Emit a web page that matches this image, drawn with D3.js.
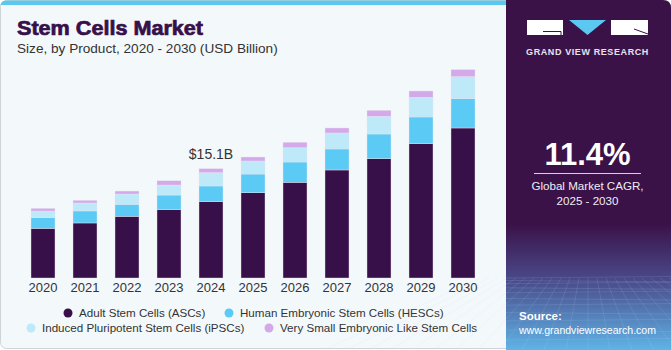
<!DOCTYPE html>
<html>
<head>
<meta charset="utf-8">
<script src="https://cdn.jsdelivr.net/npm/d3@7"></script>
<style>
  body { margin: 0; background: #ffffff; }
  svg { display: block; font-family: "Liberation Sans", Arial, sans-serif; }
</style>
</head>
<body>
<div id="viz"></div>
<script>
// data (USD billion)
var years = ['2020','2021','2022','2023','2024','2025','2026','2027','2028','2029','2030'];
var adult = [6.86, 7.60, 8.52, 9.43, 10.54, 11.78, 13.22, 14.92, 16.48, 18.55, 20.72];
var hesc = [1.46, 1.66, 1.66, 2.03, 2.17, 2.58, 2.80, 2.90, 3.41, 3.69, 4.05];
var ipsc = [0.93, 1.10, 1.42, 1.38, 1.84, 1.80, 1.98, 2.21, 2.44, 2.72, 3.04];
var vsel = [0.37, 0.37, 0.41, 0.59, 0.55, 0.55, 0.75, 0.69, 0.83, 0.87, 0.97];
var seriesNames = ['Adult Stem Cells (ASCs)', 'Human Embryonic Stem Cells (HESCs)',
  'Induced Pluripotent Stem Cells (iPSCs)', 'Very Small Embryonic Like Stem Cells'];
var colors = ['#37104a', '#5bcbf5', '#bde9f9', '#d3a9ea'];
var keys = ['adult', 'hesc', 'ipsc', 'vsel'];
var callout = {year: '2024', label: '$15.1B'};

var W = 671, H = 350;
var svg = d3.select('#viz').append('svg')
  .attr('width', W).attr('height', H);

// main panel
svg.append('rect')
  .attr('x', 0.5).attr('y', 0.5).attr('width', 512).attr('height', 348)
  .attr('rx', 6)
  .attr('fill', '#f3f8fb').attr('stroke', '#cfd4d8');
svg.append('path')
  .attr('d', 'M0.5,6.5 Q0.5,0.5 6.5,0.5 H512 V5 H0.5 Z')
  .attr('fill', '#5bc8ee');

svg.append('text')
  .attr('x', 17).attr('y', 35)
  .attr('font-size', 20).attr('font-weight', 900)
  .attr('fill', '#37104a').attr('stroke', '#37104a').attr('stroke-width', 0.7)
  .attr('textLength', 186).attr('lengthAdjust', 'spacingAndGlyphs')
  .text('Stem Cells Market');
svg.append('text')
  .attr('x', 17).attr('y', 53)
  .attr('font-size', 13.6).attr('fill', '#333')
  .text('Size, by Product, 2020 - 2030 (USD Billion)');

var table = years.map(function(y, i) {
  return {year: y, adult: adult[i], hesc: hesc[i], ipsc: ipsc[i], vsel: vsel[i]};
});
var stacked = d3.stack().keys(keys)(table);

var x = d3.scaleBand()
  .domain(years)
  .range([22, 484])
  .paddingInner(18 / 42)
  .paddingOuter(9 / 42);

var y = d3.scaleLinear()
  .domain([0, 25])
  .range([278, 97]);

svg.append('g')
  .selectAll('g')
  .data(stacked)
  .enter()
  .append('g')
  .attr('fill', (d, i) => colors[i])
  .selectAll('rect')
  .data(d => d)
  .enter()
  .append('rect')
  .attr('x', d => x(d.data.year))
  .attr('y', d => y(d[1]))
  .attr('width', x.bandwidth())
  .attr('height', d => y(d[0]) - y(d[1]))
  .attr('stroke', '#e9e4f0')
  .attr('stroke-width', 0.4);

var xAxis = d3.axisBottom(x).tickSize(0).tickPadding(4.5);
svg.append('g')
  .attr('transform', 'translate(0,278)')
  .call(xAxis)
  .call(g => g.select('.domain').remove())
  .selectAll('text')
  .attr('font-size', 13)
  .attr('font-family', '"Liberation Sans", Arial, sans-serif')
  .attr('fill', '#333');

// callout above 2024
var ci = years.indexOf(callout.year);
var ctot = adult[ci] + hesc[ci] + ipsc[ci] + vsel[ci];
svg.append('text')
  .attr('x', x(callout.year) + x.bandwidth() / 2)
  .attr('y', y(ctot) - 10)
  .attr('text-anchor', 'middle')
  .attr('font-size', 14).attr('fill', '#333')
  .text(callout.label);

// legend
var legendPos = [[68, 313], [229, 313], [31, 328], [269, 328]];
var legend = svg.append('g');
seriesNames.forEach(function(name, i) {
  legend.append('circle')
    .attr('cx', legendPos[i][0]).attr('cy', legendPos[i][1])
    .attr('r', 4.5).attr('fill', colors[i]);
  legend.append('text')
    .attr('x', legendPos[i][0] + 11).attr('y', legendPos[i][1] + 4.3)
    .attr('font-size', 11.6).attr('fill', '#333')
    .text(name);
});

// right side panel
var defs = svg.append('defs');
var grad = defs.append('linearGradient')
  .attr('id', 'fade').attr('x1', 0).attr('y1', 0).attr('x2', 0).attr('y2', 1);
grad.append('stop').attr('offset', '0%').attr('stop-color', '#3a1248');
grad.append('stop').attr('offset', '64%').attr('stop-color', '#3a1248');
grad.append('stop').attr('offset', '80%').attr('stop-color', '#4a4a8a');
grad.append('stop').attr('offset', '100%').attr('stop-color', '#5fb4e6');

var side = svg.append('g');
side.append('path')
  .attr('d', 'M506,0 H663 Q671,0 671,8 V350 H506 Z')
  .attr('fill', 'url(#fade)');

// faint grid at the bottom
var grid = side.append('g')
  .attr('stroke', '#bfe3f7').attr('stroke-opacity', 0.22).attr('stroke-width', 0.6)
  .attr('fill', 'none');
d3.range(0, 14).forEach(function(k) {
  var yy = 278 + k * k * 0.42 + k * 2;
  if (yy < 350) grid.append('line').attr('x1', 506).attr('x2', 671).attr('y1', yy).attr('y2', yy + (k % 2 ? 1.5 : -1.5));
});
d3.range(-12, 13).forEach(function(k) {
  grid.append('line')
    .attr('x1', 588 + k * 9).attr('y1', 278)
    .attr('x2', 588 + k * 22).attr('y2', 350);
});

// logo
var logo = side.append('g');
logo.append('rect').attr('x', 527).attr('y', 20).attr('width', 36).attr('height', 15).attr('fill', '#fff');
logo.append('path').attr('d', 'M543,31.5 H561 V35').attr('stroke', '#37104a').attr('stroke-width', 1).attr('fill', 'none');
logo.append('path').attr('d', 'M569,20 H606 L587.5,35 Z').attr('fill', '#5bc8f2');
logo.append('rect').attr('x', 611).attr('y', 20).attr('width', 37).attr('height', 15).attr('fill', '#fff');
logo.append('path').attr('d', 'M634,29 L648,34').attr('stroke', '#37104a').attr('stroke-width', 1);
logo.append('text')
  .attr('x', 587.5).attr('y', 54.5)
  .attr('text-anchor', 'middle')
  .attr('font-size', 9).attr('font-weight', 'bold')
  .attr('letter-spacing', 0.6)
  .attr('fill', '#e8e4ee')
  .text('GRAND VIEW RESEARCH');

side.append('text')
  .attr('x', 587.5).attr('y', 165)
  .attr('text-anchor', 'middle')
  .attr('font-size', 31).attr('font-weight', 'bold')
  .attr('fill', '#fff')
  .text('11.4%');
side.append('line')
  .attr('x1', 534).attr('x2', 641).attr('y1', 173.5).attr('y2', 173.5)
  .attr('stroke', '#d8cfe2').attr('stroke-width', 1);
side.append('text')
  .attr('x', 587.5).attr('y', 190)
  .attr('text-anchor', 'middle')
  .attr('font-size', 11.6).attr('fill', '#f0ecf4')
  .text('Global Market CAGR,');
side.append('text')
  .attr('x', 587.5).attr('y', 205)
  .attr('text-anchor', 'middle')
  .attr('font-size', 11.6).attr('fill', '#f0ecf4')
  .text('2025 - 2030');

side.append('text')
  .attr('x', 519).attr('y', 320)
  .attr('font-size', 11.5).attr('font-weight', 'bold')
  .attr('fill', '#fff')
  .text('Source:');
side.append('text')
  .attr('x', 519).attr('y', 334)
  .attr('font-size', 11.5).attr('fill', '#fff')
  .attr('textLength', 137).attr('lengthAdjust', 'spacingAndGlyphs')
  .text('www.grandviewresearch.com');
</script>
</body>
</html>
